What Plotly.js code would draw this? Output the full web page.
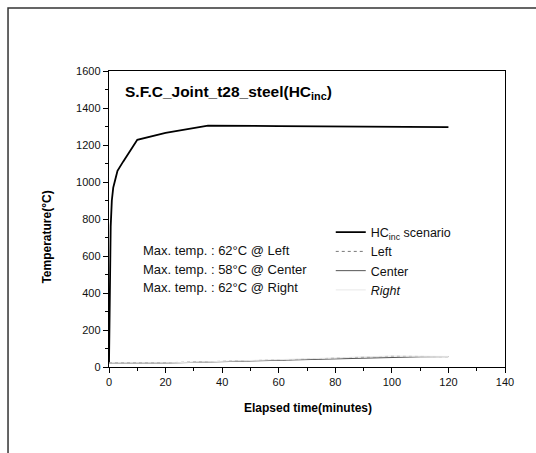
<!DOCTYPE html>
<html>
<head>
<meta charset="utf-8">
<script src="https://cdn.plot.ly/plotly-3.0.1.min.js"></script>
<style>
html,body{margin:0;padding:0;background:#fff;}
#chart{width:536px;height:453px;}
</style>
</head>
<body>
<div id="chart"></div>
<script>
// Data
const hcTime = [0, 0.3, 0.6, 1, 1.5, 2, 3, 5, 10, 20, 35, 60, 90, 120];
const hcTemp = [20, 450, 760, 900, 970, 1000, 1060, 1110, 1228, 1265, 1305, 1302, 1300, 1297];

const sensorTime = [0, 10, 20, 30, 40, 50, 60, 70, 80, 90, 100, 110, 120];
const leftTemp   = [22, 22, 23, 27, 30, 34, 38, 42, 48, 54, 58, 57, 56];
const centerTemp = [20, 20, 21, 25, 29, 33, 38, 41, 45, 50, 54, 55, 56];
const rightTemp  = [21, 21, 22, 26, 30, 34, 39, 43, 49, 55, 59, 58, 57];

const legendNames = ["HC<sub>inc</sub> scenario", "Left", "Center", "<i>Right</i>"];
const noteLines = [
  "Max. temp. : 62°C @ Left",
  "Max. temp. : 58°C @ Center",
  "Max. temp. : 62°C @ Right"
];
const chartTitle = "S.F.C_Joint_t28_steel(HC<sub>inc</sub>)";
const xTitle = "Elapsed time(minutes)";
const yTitle = "Temperature(°C)";

const FONT = "Arial, 'Liberation Sans', sans-serif";

const traces = [
  {x: hcTime, y: hcTemp, name: legendNames[0], mode: "lines",
   line: {color: "#000", width: 1.8}},
  {x: sensorTime, y: leftTemp, name: legendNames[1], mode: "lines",
   line: {color: "#777", width: 1, dash: "dot"}},
  {x: sensorTime, y: centerTemp, name: legendNames[2], mode: "lines",
   line: {color: "#555", width: 1}},
  {x: sensorTime, y: rightTemp, name: legendNames[3], mode: "lines",
   line: {color: "#e8e8e8", width: 1}}
];

const noteY = [0.395, 0.328, 0.267];
const annotations = noteLines.map((t, i) => ({
  xref: "paper", yref: "paper", x: 0.081, y: noteY[i],
  xanchor: "left", yanchor: "middle", showarrow: false,
  text: t, font: {family: FONT, size: 13, color: "#111"}
}));
annotations.push({
  xref: "paper", yref: "paper", x: 0.035, y: 0.926,
  xanchor: "left", yanchor: "middle", showarrow: false,
  text: "<b>" + chartTitle + "</b>", font: {family: FONT, size: 15.5, color: "#000"}
});
annotations.push({
  xref: "paper", yref: "paper", x: 0.5025, y: -0.1385,
  xanchor: "center", yanchor: "middle", showarrow: false,
  text: "<b>" + xTitle + "</b>", font: {family: FONT, size: 12, color: "#000"}
});
annotations.push({
  xref: "paper", yref: "paper", x: -0.157, y: 0.44,
  xanchor: "center", yanchor: "middle", showarrow: false, textangle: -90,
  text: "<b>" + yTitle + "</b>", font: {family: FONT, size: 12, color: "#000"}
});

const layout = {
  width: 536, height: 453,
  margin: {l: 109, r: 31, t: 71, b: 86},
  paper_bgcolor: "#fff", plot_bgcolor: "#fff",
  font: {family: FONT, size: 11, color: "#111"},
  showlegend: true,
  legend: {
    x: 0.56, y: 0.505, xanchor: "left", yanchor: "top",
    bgcolor: "rgba(0,0,0,0)", borderwidth: 0,
    font: {family: FONT, size: 12.5, color: "#111"},
    tracegroupgap: 0, itemwidth: 30
  },
  xaxis: {
    range: [0, 140], dtick: 20, tick0: 0,
    showgrid: false, zeroline: false,
    showline: true, linecolor: "#000", linewidth: 1.2, mirror: true,
    ticks: "outside", ticklen: 5, tickcolor: "#000",
    minor: {dtick: 10, ticks: "outside", ticklen: 3, tickcolor: "#000"},
    tickfont: {family: FONT, size: 11, color: "#111"}
  },
  yaxis: {
    range: [0, 1600], dtick: 200, tick0: 0,
    showgrid: false, zeroline: false,
    showline: true, linecolor: "#000", linewidth: 1.2, mirror: true,
    ticks: "outside", ticklen: 5, tickcolor: "#000",
    minor: {dtick: 100, ticks: "outside", ticklen: 3, tickcolor: "#000"},
    tickfont: {family: FONT, size: 11, color: "#111"}
  },
  annotations: annotations,
  shapes: [{
    type: "rect", xref: "paper", yref: "paper",
    x0: -0.255, x1: 1.2, y0: -0.4, y1: 1.2128,
    line: {color: "#333", width: 1.5}
  }]
};

Plotly.newPlot("chart", traces, layout, {displayModeBar: false, staticPlot: true});
</script>
</body>
</html>
